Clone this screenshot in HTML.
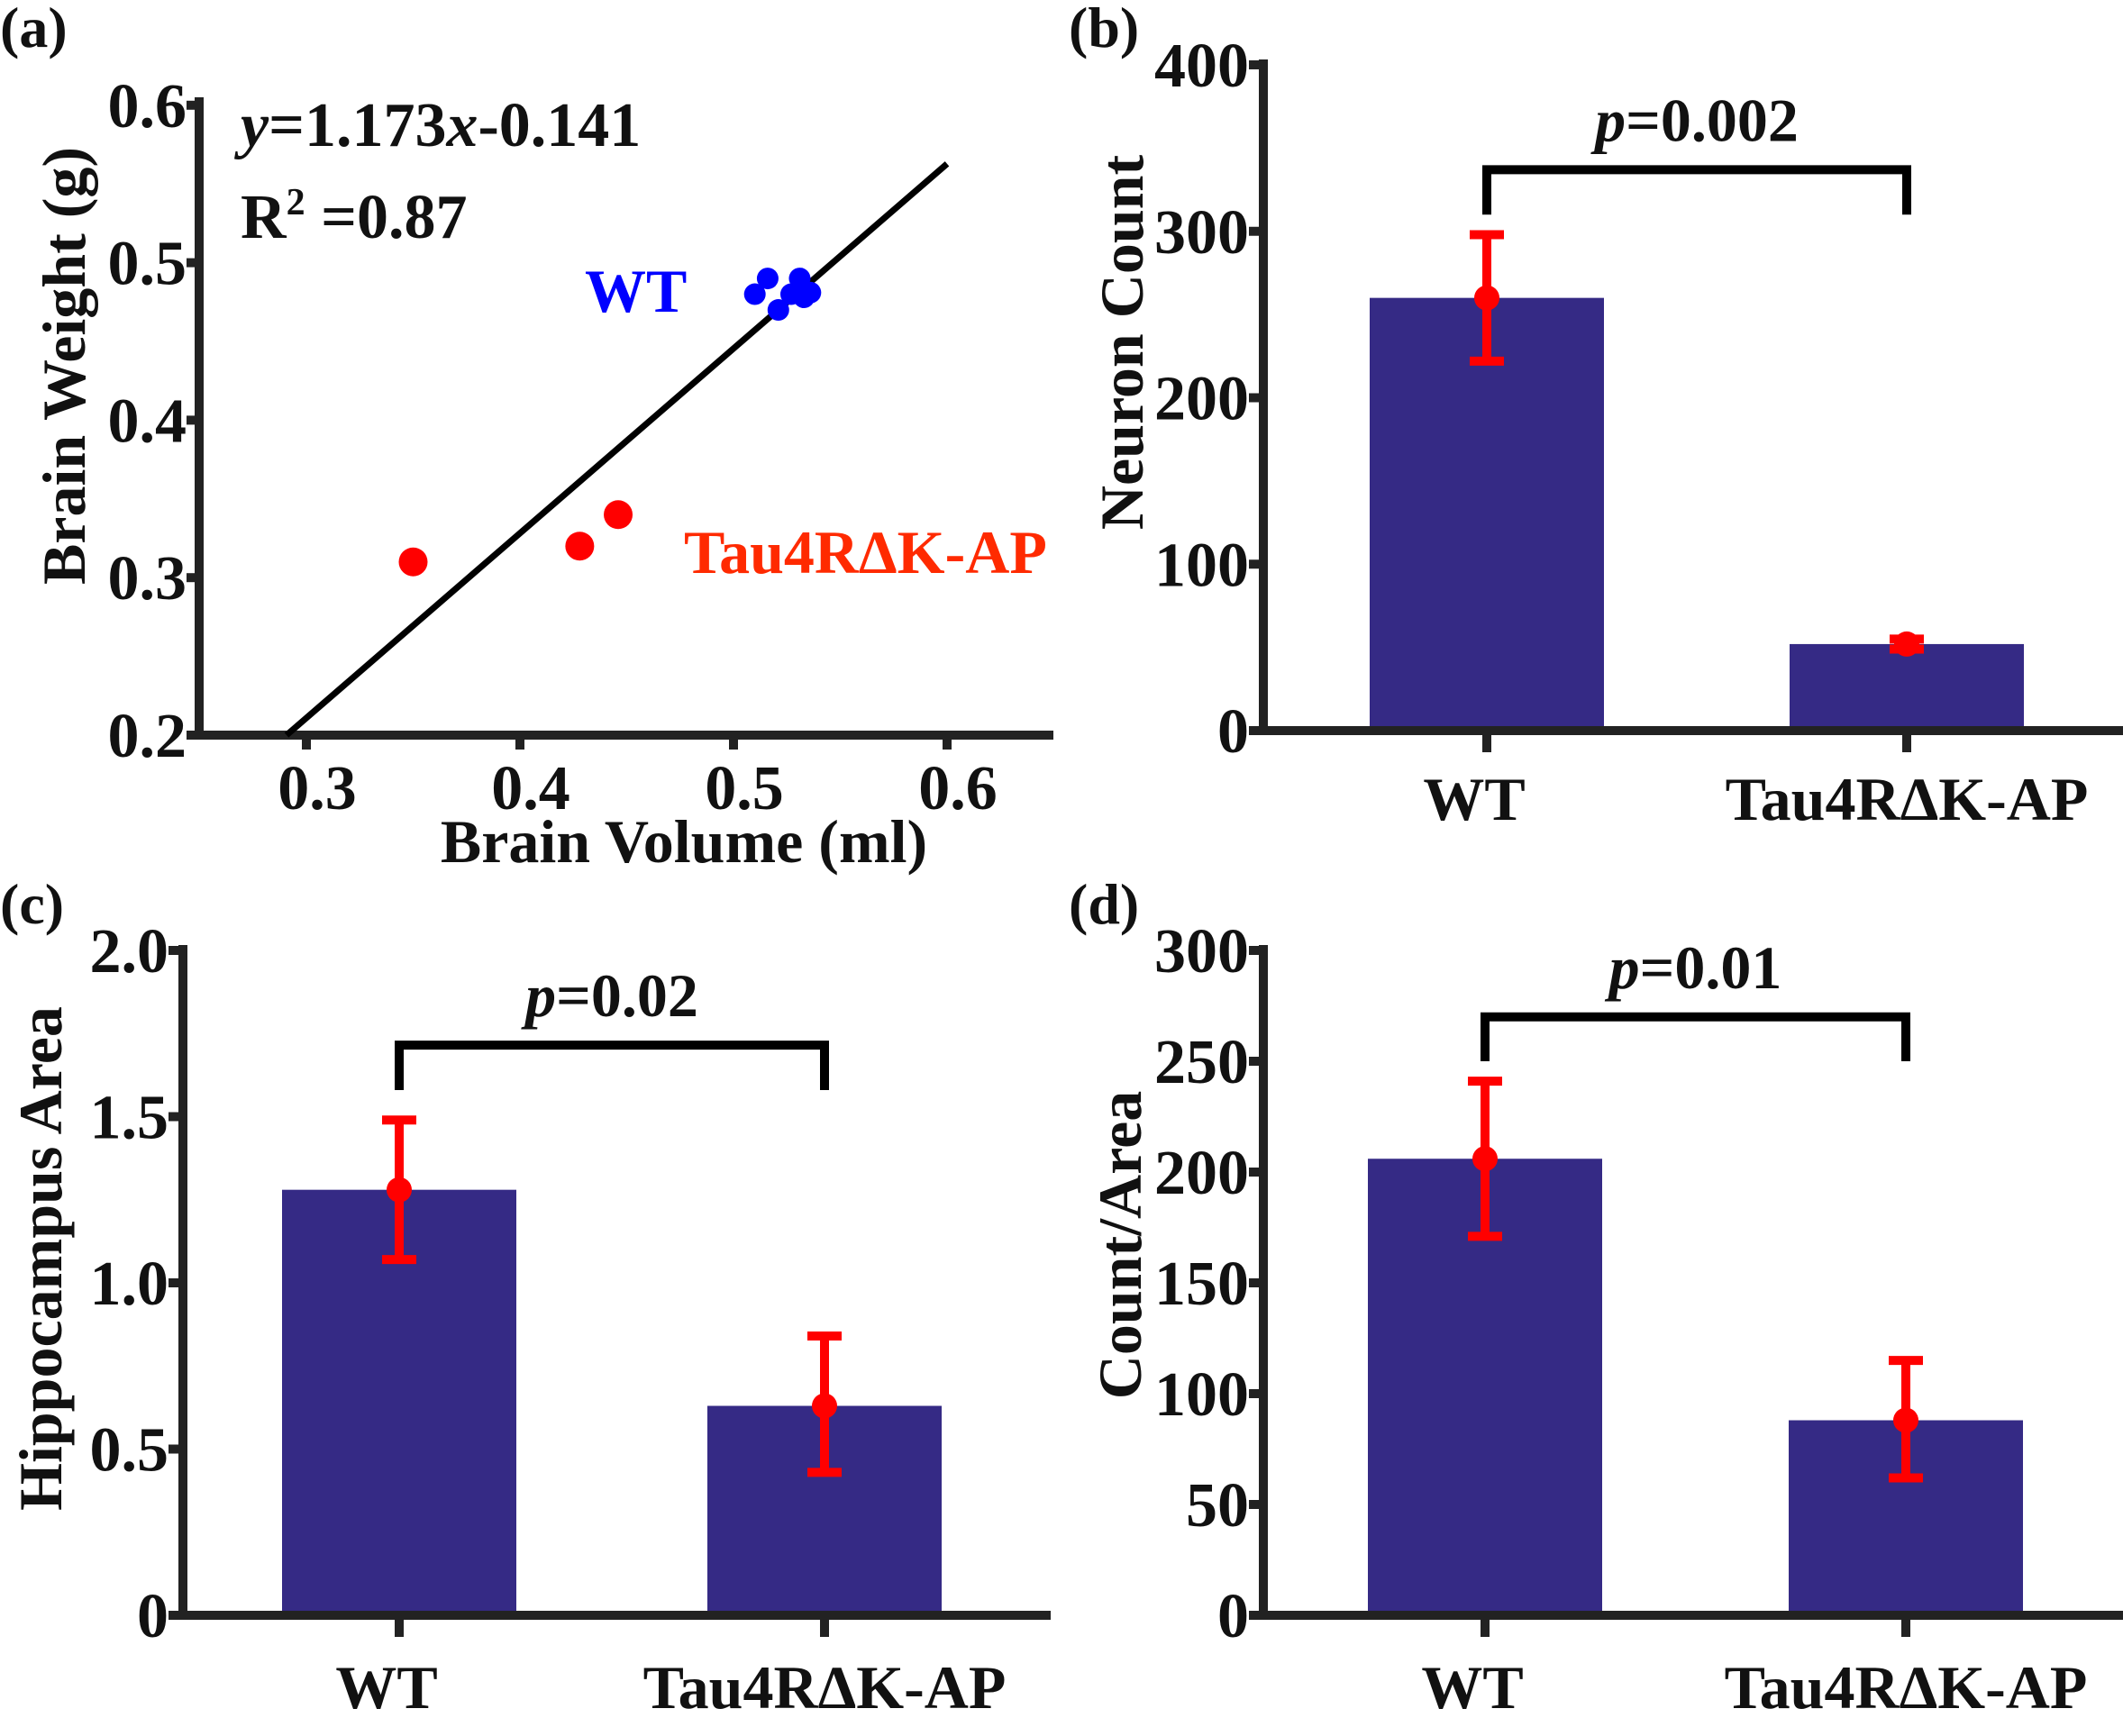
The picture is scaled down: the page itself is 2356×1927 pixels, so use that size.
<!DOCTYPE html>
<html><head><meta charset="utf-8"><style>
html,body{margin:0;padding:0;background:#fff}
svg{display:block}
text{font-family:"Liberation Serif","Times New Roman",serif;font-weight:bold;fill:#111}
</style></head><body>
<svg id="fig" xmlns="http://www.w3.org/2000/svg" width="2356" height="1927" viewBox="0 0 2356 1927"></svg>
<script>
// Panel (a) data
const aXTicks = [0.3, 0.4, 0.5, 0.6];
const aYTicks = [0.2, 0.3, 0.4, 0.5, 0.6];
const tauX = [0.350, 0.428, 0.446];
const tauY = [0.310, 0.320, 0.340];
const wtX = [0.510, 0.516, 0.521, 0.527, 0.531, 0.533, 0.536];
const wtY = [0.480, 0.490, 0.470, 0.480, 0.490, 0.478, 0.481];
const fitSlope = 1.173;
const fitIntercept = -0.141;
// Bar panels data
const categories = ["WT", "Tau4RΔK-AP"];
const bMeans = [260, 52];
const bLow = [222, 49];
const bHigh = [298, 55];
const bTicks = [0, 100, 200, 300, 400];
const cMeans = [1.28, 0.63];
const cLow = [1.07, 0.43];
const cHigh = [1.49, 0.84];
const cTicks = [0, 0.5, 1.0, 1.5, 2.0];
const cTickLabels = ["0", "0.5", "1.0", "1.5", "2.0"];
const dMeans = [206, 88];
const dLow = [171, 62];
const dHigh = [241, 115];
const dTicks = [0, 50, 100, 150, 200, 250, 300];

const NS = "http://www.w3.org/2000/svg";
const svg = document.getElementById('fig');
function mk(tag, attrs, parent, txt){
  const e = document.createElementNS(NS, tag);
  for (const k in attrs) e.setAttribute(k, attrs[k]);
  if (txt !== undefined) e.textContent = txt;
  (parent || svg).appendChild(e);
  return e;
}
const AX = "#222";
const TICK_FS = 70, TITLE_FS = 68, CAT_FS = 68, P_FS = 68, LBL_FS = 64;

// ---------- Panel (a) ----------
const ga = mk('g', {});


const aL = 221, aR = 1169, aB = 816;
const ax = v => 340 + (v - 0.3) * 2370;
const ay = v => aB - (v - 0.2) * 1748;
let t = mk('text', {x: 0, y: 52, 'font-size': LBL_FS}, ga, '(a)');


let l = mk('line', {x1: aL, y1: 108, x2: aL, y2: aB + 5, stroke: AX, 'stroke-width': 10}, ga);


l = mk('line', {x1: aL - 5, y1: aB, x2: aR, y2: aB, stroke: AX, 'stroke-width': 10}, ga);


aYTicks.forEach(v => {
  const tk = mk('line', {x1: aL - 14, y1: ay(v), x2: aL, y2: ay(v), stroke: AX, 'stroke-width': 10}, ga);
  
  
  const tl = mk('text', {x: aL - 14, y: ay(v) + 24, 'font-size': TICK_FS, 'text-anchor': 'end'}, ga, v.toFixed(1));
  
  
});
aXTicks.forEach(v => {
  const tk = mk('line', {x1: ax(v), y1: aB, x2: ax(v), y2: aB + 16, stroke: AX, 'stroke-width': 10}, ga);
  
  
  const tl = mk('text', {x: ax(v) + 12, y: aB + 82, 'font-size': TICK_FS, 'text-anchor': 'middle'}, ga, v.toFixed(1));
  
  
});
t = mk('text', {x: 759, y: 957, 'font-size': TITLE_FS, 'text-anchor': 'middle'}, ga, 'Brain Volume (ml)');


t = mk('text', {x: 0, y: 0, 'font-size': TITLE_FS, 'text-anchor': 'middle', transform: 'translate(94,406) rotate(-90)'}, ga, 'Brain Weight (g)');


const x0 = (0.2 - fitIntercept) / fitSlope, x1 = 0.6;
l = mk('line', {x1: ax(x0), y1: ay(fitSlope * x0 + fitIntercept), x2: ax(x1), y2: ay(fitSlope * x1 + fitIntercept), stroke: '#000', 'stroke-width': 7}, ga);


tauX.forEach((v, i) => {
  const c = mk('circle', {cx: ax(v), cy: ay(tauY[i]), r: 16, fill: '#ff0000'}, ga);
  
  
});
wtX.forEach((v, i) => {
  const c = mk('circle', {cx: ax(v), cy: ay(wtY[i]), r: 12, fill: '#0000ff'}, ga);
  
  
});
t = mk('text', {x: 267, y: 162, 'font-size': 70}, ga);
t.innerHTML = '<tspan font-style="italic">y</tspan>=1.173<tspan font-style="italic">x</tspan>-0.141';


t = mk('text', {x: 267, y: 264, 'font-size': 70}, ga);
t.innerHTML = 'R<tspan dy="-26" font-size="42">2</tspan><tspan dy="26"> =0.87</tspan>';


t = mk('text', {x: 649, y: 346, 'font-size': 68, style: 'fill:#0000ff'}, ga, 'WT');


t = mk('text', {x: 759, y: 636, 'font-size': 68, style: 'fill:#ff2a00'}, ga, 'Tau4RΔK-AP');



// ---------- Bar panels ----------
function barPanel(o){
  const g = mk('g', {});
  
  
  const yv = v => o.bottom - (v - o.ymin) / (o.ymax - o.ymin) * (o.bottom - o.top);
  let e = mk('text', {x: o.labelX, y: o.labelY, 'font-size': LBL_FS}, g, o.label);
  
  
  o.means.forEach((m, i) => {
    const cx = o.centers[i];
    const b = mk('rect', {x: cx - 130, y: yv(m), width: 260, height: o.bottom - yv(m), fill: '#352a85'}, g);
    
    
  });
  e = mk('line', {x1: o.left, y1: o.top - 6, x2: o.left, y2: o.bottom + 5, stroke: AX, 'stroke-width': 10}, g);
  
  
  e = mk('line', {x1: o.left - 16, y1: o.bottom, x2: o.right, y2: o.bottom, stroke: AX, 'stroke-width': 10}, g);
  
  
  o.ticks.forEach((v, i) => {
    const tk = mk('line', {x1: o.left - 16, y1: yv(v), x2: o.left, y2: yv(v), stroke: AX, 'stroke-width': 10}, g);
    
    
    const tl = mk('text', {x: o.left - 16, y: yv(v) + 24, 'font-size': TICK_FS, 'text-anchor': 'end'}, g, o.tickLabels ? o.tickLabels[i] : String(v));
    
    
  });
  categories.forEach((c, i) => {
    const tk = mk('line', {x1: o.centers[i], y1: o.bottom, x2: o.centers[i], y2: o.bottom + 24, stroke: AX, 'stroke-width': 10}, g);
    
    
    const tl = mk('text', {x: o.centers[i] - (i === 0 ? 14 : 0), y: o.catY, 'font-size': CAT_FS, 'text-anchor': 'middle'}, g, c);
    
    
  });
  o.means.forEach((m, i) => {
    const cx = o.centers[i];
    const eb = mk('line', {x1: cx, y1: yv(o.low[i]), x2: cx, y2: yv(o.high[i]), stroke: '#ff0000', 'stroke-width': 10}, g);
    
    
    [o.low[i], o.high[i]].forEach(v => {
      const cap = mk('line', {x1: cx - 19, y1: yv(v), x2: cx + 19, y2: yv(v), stroke: '#ff0000', 'stroke-width': 10}, g);
      
      
    });
    const dot = mk('circle', {cx: cx, cy: yv(m), r: 14, fill: '#ff0000'}, g);
    
    
  });
  const c0 = o.centers[0], c1 = o.centers[1];
  e = mk('polyline', {points: `${c0},${yv(o.legV)} ${c0},${yv(o.brV)} ${c1},${yv(o.brV)} ${c1},${yv(o.legV)}`, fill: 'none', stroke: '#000', 'stroke-width': 10}, g);
  
  
  e = mk('text', {x: (c0 + c1) / 2, y: yv(o.brV) - 32, 'font-size': P_FS, 'text-anchor': 'middle'}, g);
  e.innerHTML = '<tspan font-style="italic">p</tspan>=' + o.p;
  
  
  e = mk('text', {x: 0, y: 0, 'font-size': TITLE_FS, 'text-anchor': 'middle', transform: `translate(${o.titleX},${o.titleY}) rotate(-90)`}, g, o.title);
  
  
}
barPanel({name: 'panel-b', label: '(b)', labelX: 1186, labelY: 52, left: 1402, right: 2356, top: 72, bottom: 811, ymin: 0, ymax: 400,
  ticks: bTicks, means: bMeans, low: bLow, high: bHigh, centers: [1650, 2116], catY: 910, brV: 337, legV: 310, p: '0.002',
  title: 'Neuron Count', titleX: 1268, titleY: 380});
barPanel({name: 'panel-c', label: '(c)', labelX: 0, labelY: 1025, left: 203, right: 1166, top: 1055, bottom: 1793, ymin: 0, ymax: 2,
  ticks: cTicks, tickLabels: cTickLabels, means: cMeans, low: cLow, high: cHigh, centers: [443, 915], catY: 1896, brV: 1.715, legV: 1.58, p: '0.02',
  title: 'Hippocampus Area', titleX: 68, titleY: 1397});
barPanel({name: 'panel-d', label: '(d)', labelX: 1186, labelY: 1025, left: 1402, right: 2356, top: 1055, bottom: 1793, ymin: 0, ymax: 300,
  ticks: dTicks, means: dMeans, low: dLow, high: dHigh, centers: [1648, 2115], catY: 1896, brV: 270, legV: 250, p: '0.01',
  title: 'Count/Area', titleX: 1266, titleY: 1382});
</script>
</body></html>
